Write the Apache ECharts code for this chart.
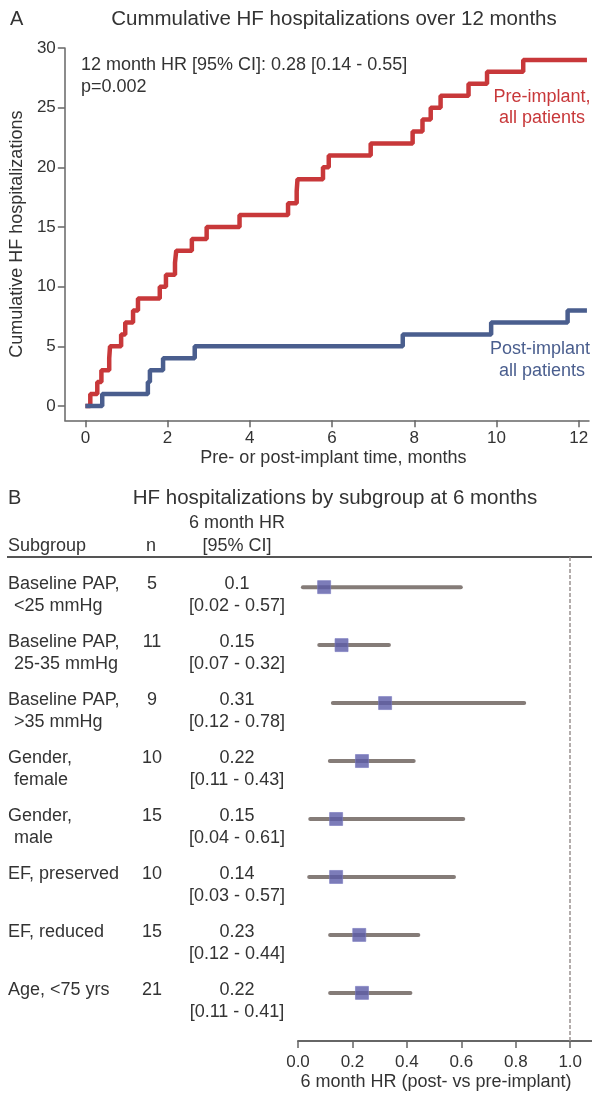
<!DOCTYPE html>
<html>
<head>
<meta charset="utf-8">
<script src="https://cdn.jsdelivr.net/npm/echarts@6/dist/echarts.min.js"></script>
<style>
html,body{margin:0;padding:0;background:#fff;}
#chart{width:592px;height:1097px;}
</style>
</head>
<body>
<div id="chart"></div>
<script>
// ---------- Panel A data ----------
const preTime  = [0, 0.12, 0.29, 0.39, 0.58, 0.60, 0.87, 0.97, 1.16, 1.28, 1.81, 1.96, 2.18, 2.21, 2.59, 2.95, 3.75, 4.93, 5.14, 5.16, 5.78, 5.92, 6.94, 7.96, 8.20, 8.40, 8.64, 9.32, 9.77, 10.65, 12.2];
const preCount = [0, 1, 2, 3, 4, 5, 6, 7, 8, 9, 10, 11, 12, 13, 14, 15, 16, 17, 18, 19, 20, 21, 22, 23, 24, 25, 26, 27, 28, 29, 29];
const postTime  = [0, 0.41, 1.52, 1.57, 1.89, 2.66, 7.72, 9.87, 11.73, 12.2];
const postCount = [0, 1, 2, 3, 4, 5, 6, 7, 8, 8];
const xTicksA = [0, 2, 4, 6, 8, 10, 12];
const yTicksA = [0, 5, 10, 15, 20, 25, 30];

// ---------- Panel B data ----------
const subgroupLine1 = ["Baseline PAP,", "Baseline PAP,", "Baseline PAP,", "Gender,", "Gender,", "EF, preserved", "EF, reduced", "Age, <75 yrs"];
const subgroupLine2 = ["<25 mmHg", "25-35 mmHg", ">35 mmHg", "female", "male", "", "", ""];
const nValues = [5, 11, 9, 10, 15, 10, 15, 21];
const hrLabels = ["0.1", "0.15", "0.31", "0.22", "0.15", "0.14", "0.23", "0.22"];
const ciLabels = ["[0.02 - 0.57]", "[0.07 - 0.32]", "[0.12 - 0.78]", "[0.11 - 0.43]", "[0.04 - 0.61]", "[0.03 - 0.57]", "[0.12 - 0.44]", "[0.11 - 0.41]"];
const hrPoint = [0.096, 0.16, 0.32, 0.235, 0.14, 0.14, 0.225, 0.235];
const ciLow   = [0.018, 0.078, 0.128, 0.117, 0.045, 0.041, 0.118, 0.118];
const ciHigh  = [0.598, 0.334, 0.831, 0.425, 0.607, 0.573, 0.442, 0.413];
const xTicksB = [0, 0.2, 0.4, 0.6, 0.8, 1.0];

const FONT = '"Liberation Sans", Arial, Helvetica, sans-serif';
const TXT = '#333333';
const RED = '#c8383a';
const BLUE = '#4a5e8e';

const preData = preTime.map((t, i) => [t, preCount[i]]);
const postData = postTime.map((t, i) => [t, postCount[i]]);
const rows = nValues.map((n, i) => i);

const chart = echarts.init(document.getElementById('chart'), null, {renderer: 'canvas'});

const option = {
  animation: false,
  backgroundColor: '#fff',
  textStyle: {fontFamily: FONT},
  grid: [
    {left: 62, top: 48, width: 527, height: 372.3},
    {left: 298, top: 557, width: 294, height: 484}
  ],
  xAxis: [
    {
      type: 'value', gridIndex: 0, min: -0.5, max: 12.25,
      axisLine: {show: true, onZero: false, lineStyle: {color: '#666', width: 1.5}},
      axisTick: {show: true, length: 7, customValues: xTicksA, lineStyle: {color: '#666', width: 1.5}},
      axisLabel: {customValues: xTicksA, fontSize: 17, color: TXT, margin: 10, fontFamily: FONT},
      splitLine: {show: false},
      name: 'Pre- or post-implant time, months', nameLocation: 'middle', nameGap: 29,
      nameTextStyle: {fontSize: 18, color: TXT, fontFamily: FONT, padding: [0, 0, 0, 13]}
    },
    {
      type: 'value', gridIndex: 1, min: 0, max: 1.08,
      axisLine: {show: true, onZero: false, lineStyle: {color: '#666', width: 2}},
      axisTick: {show: true, length: 7, customValues: xTicksB, lineStyle: {color: '#666', width: 1.5}},
      axisLabel: {customValues: xTicksB, fontSize: 17, color: TXT, margin: 13, fontFamily: FONT,
        formatter: v => v.toFixed(1)},
      splitLine: {show: false},
      name: '6 month HR (post- vs pre-implant)', nameLocation: 'middle', nameGap: 32,
      nameTextStyle: {fontSize: 18, color: TXT, fontFamily: FONT, padding: [0, 18, 0, 0]}
    }
  ],
  yAxis: [
    {
      type: 'value', gridIndex: 0, min: -1.2, max: 30,
      axisLine: {show: true, onZero: false, lineStyle: {color: '#666', width: 1.5}},
      axisTick: {show: true, length: 7, customValues: yTicksA, lineStyle: {color: '#666', width: 1.5}},
      axisLabel: {customValues: yTicksA, fontSize: 17, color: TXT, margin: 9, fontFamily: FONT},
      splitLine: {show: false},
      name: 'Cumulative HF hospitalizations', nameLocation: 'middle', nameGap: 31,
      nameTextStyle: {fontSize: 18, color: TXT, fontFamily: FONT}
    },
    {
      type: 'value', gridIndex: 1, min: -0.52, max: 7.83, inverse: true, show: false
    }
  ],
  series: [
    {
      type: 'line', xAxisIndex: 0, yAxisIndex: 0, step: 'end', data: preData,
      showSymbol: false, symbol: 'none', lineStyle: {color: RED, width: 4.5}, z: 2
    },
    {
      type: 'line', xAxisIndex: 0, yAxisIndex: 0, step: 'end', data: postData,
      showSymbol: false, symbol: 'none', lineStyle: {color: BLUE, width: 4.5}, z: 3
    },
    {
      // confidence interval bars
      type: 'custom', xAxisIndex: 1, yAxisIndex: 1,
      data: rows.map(i => [ciLow[i], ciHigh[i], i]),
      encode: {x: [0, 1], y: 2},
      renderItem: function (params, api) {
        const p1 = api.coord([api.value(0), api.value(2)]);
        const p2 = api.coord([api.value(1), api.value(2)]);
        return {
          type: 'line',
          shape: {x1: p1[0], y1: p1[1], x2: p2[0], y2: p2[1]},
          style: {stroke: '#857c78', lineWidth: 4, lineCap: 'round'}
        };
      },
      z: 2
    },
    {
      type: 'scatter', xAxisIndex: 1, yAxisIndex: 1,
      data: rows.map(i => [hrPoint[i], i]),
      symbol: 'rect', symbolSize: 13,
      itemStyle: {color: '#5b5ba8', borderColor: '#7a7ac0', borderWidth: 0.8},
      markLine: {
        silent: true, symbol: 'none', label: {show: false},
        lineStyle: {color: '#9a9391', width: 1.5, type: [4, 2]},
        data: [{xAxis: 1.0}]
      },
      z: 3
    },
    {
      // table text columns
      type: 'custom', xAxisIndex: 1, yAxisIndex: 1,
      data: rows.map(i => [0, i]),
      encode: {x: 0, y: 1},
      clip: false,
      renderItem: function (params, api) {
        const i = params.dataIndex;
        const y = api.coord([0, api.value(1)])[1];
        const base = {fill: TXT, fontSize: 18, fontFamily: FONT};
        const t = (x, yy, text, align) => ({
          type: 'text', x: x, y: yy,
          style: Object.assign({}, base, {text: text, align: align, verticalAlign: 'middle'})
        });
        return {
          type: 'group',
          children: [
            t(8, y - 3, subgroupLine1[i], 'left'),
            t(14, y + 19, subgroupLine2[i], 'left'),
            t(152, y - 3, String(nValues[i]), 'center'),
            t(237, y - 3, hrLabels[i], 'center'),
            t(237, y + 19, ciLabels[i], 'center')
          ]
        };
      },
      z: 4
    }
  ],
  graphic: [
    {type: 'text', x: 10, y: 19, style: {text: 'A', fontSize: 20, fill: TXT, fontFamily: FONT, align: 'left', verticalAlign: 'middle'}},
    {type: 'text', x: 334, y: 19, style: {text: 'Cummulative HF hospitalizations over 12 months', fontSize: 20.5, fill: TXT, fontFamily: FONT, align: 'center', verticalAlign: 'middle'}},
    {type: 'text', x: 81, y: 65, style: {text: '12 month HR [95% CI]: 0.28 [0.14 - 0.55]', fontSize: 18, fill: TXT, fontFamily: FONT, align: 'left', verticalAlign: 'middle'}},
    {type: 'text', x: 81, y: 87, style: {text: 'p=0.002', fontSize: 18, fill: TXT, fontFamily: FONT, align: 'left', verticalAlign: 'middle'}},
    {type: 'text', x: 542, y: 97, style: {text: 'Pre-implant,', fontSize: 18, fill: RED, fontFamily: FONT, align: 'center', verticalAlign: 'middle'}},
    {type: 'text', x: 542, y: 118, style: {text: 'all patients', fontSize: 18, fill: RED, fontFamily: FONT, align: 'center', verticalAlign: 'middle'}},
    {type: 'text', x: 540, y: 349, style: {text: 'Post-implant', fontSize: 18, fill: BLUE, fontFamily: FONT, align: 'center', verticalAlign: 'middle'}},
    {type: 'text', x: 542, y: 371, style: {text: 'all patients', fontSize: 18, fill: BLUE, fontFamily: FONT, align: 'center', verticalAlign: 'middle'}},
    {type: 'text', x: 8, y: 498, style: {text: 'B', fontSize: 20, fill: TXT, fontFamily: FONT, align: 'left', verticalAlign: 'middle'}},
    {type: 'text', x: 335, y: 498, style: {text: 'HF hospitalizations by subgroup at 6 months', fontSize: 20.5, fill: TXT, fontFamily: FONT, align: 'center', verticalAlign: 'middle'}},
    {type: 'text', x: 237, y: 523, style: {text: '6 month HR', fontSize: 18, fill: TXT, fontFamily: FONT, align: 'center', verticalAlign: 'middle'}},
    {type: 'text', x: 237, y: 546, style: {text: '[95% CI]', fontSize: 18, fill: TXT, fontFamily: FONT, align: 'center', verticalAlign: 'middle'}},
    {type: 'text', x: 8, y: 546, style: {text: 'Subgroup', fontSize: 18, fill: TXT, fontFamily: FONT, align: 'left', verticalAlign: 'middle'}},
    {type: 'text', x: 151, y: 546, style: {text: 'n', fontSize: 18, fill: TXT, fontFamily: FONT, align: 'center', verticalAlign: 'middle'}},
    {type: 'line', shape: {x1: 7, y1: 557, x2: 592, y2: 557}, style: {stroke: '#555', lineWidth: 2}}
  ]
};
chart.setOption(option);
</script>
</body>
</html>
